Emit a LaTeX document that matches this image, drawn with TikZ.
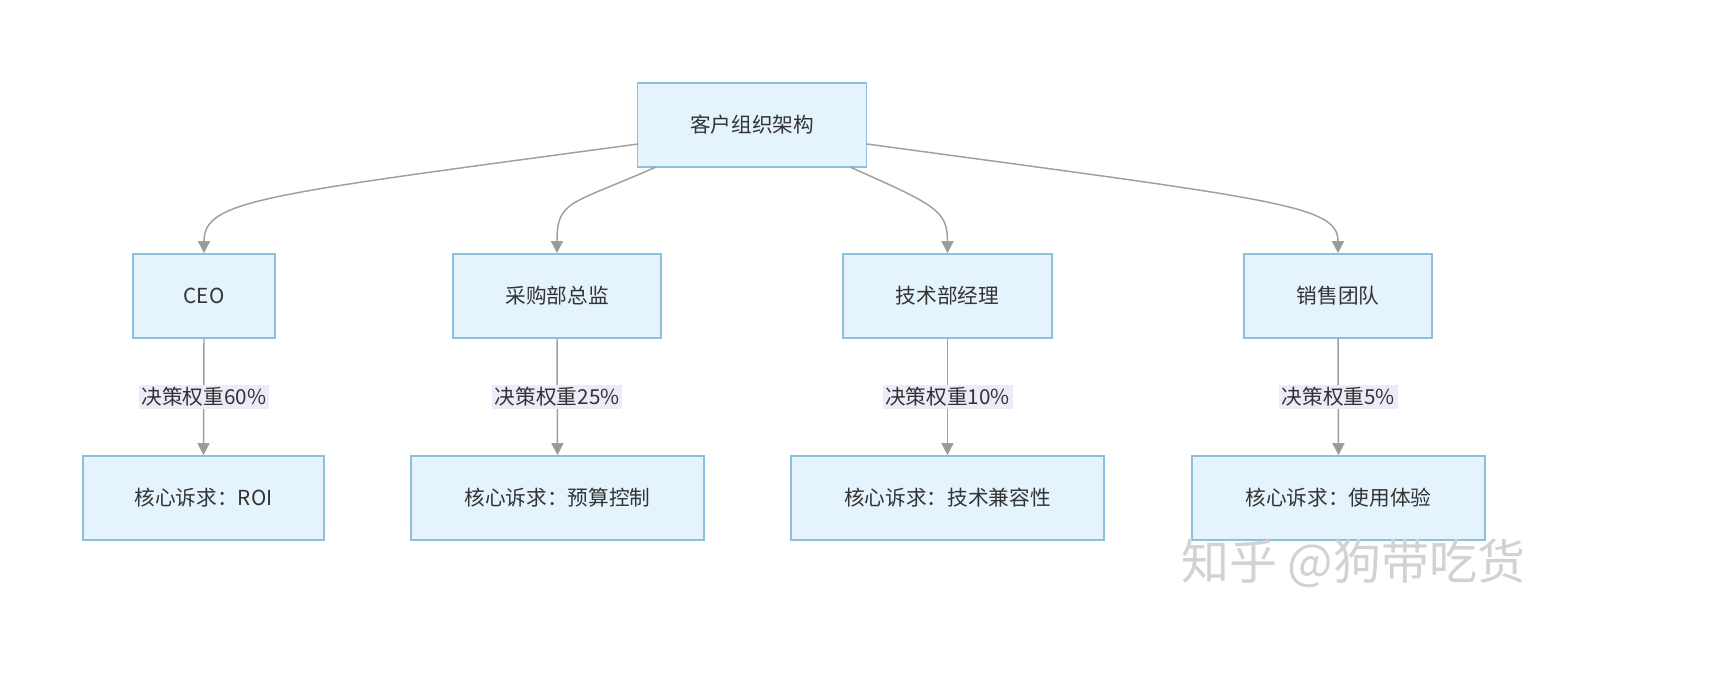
\documentclass[tikz,border=0pt]{standalone}
\usepackage{fontspec}
\usetikzlibrary{arrows.meta}
\setmainfont{Noto Sans CJK SC}
\begin{document}
\begin{tikzpicture}[x=0.75pt,y=-0.75pt,
  box/.style={draw=boxline,fill=boxfill,line width=1.2pt,font=\fontsize{15.5}{18}\selectfont,text=black!80,inner sep=0pt},
  lab/.style={fill=labfill,font=\fontsize{15.5}{18}\selectfont,text=black!80,inner sep=2pt},
  arr/.style={draw=gray!75,line width=1.1pt,-{Triangle[length=9pt,width=9pt,fill=gray!80]}}]
\definecolor{boxfill}{HTML}{E4F3FC}
\definecolor{boxline}{HTML}{8CC0DC}
\definecolor{labfill}{HTML}{EEEAF8}
\useasboundingbox (0,0) rectangle (1709,679);
\fill[white] (0,0) rectangle (1709,679);
\node[box,minimum width=229*0.75pt,minimum height=84*0.75pt] (root) at (752,125) {客户组织架构};
\foreach \n/\x/\w/\t in {a/204/142/CEO, b/557/208/采购部总监, c/947.5/209/技术部经理, d/1338/188/销售团队}
  \node[box,minimum width=\w*0.75pt,minimum height=84*0.75pt] (\n) at (\x,296) {\t};
\foreach \n/\x/\w/\t in {a2/203.5/241/核心诉求：ROI, b2/557.5/293/核心诉求：预算控制, c2/947.5/313/核心诉求：技术兼容性, d2/1338.5/293/核心诉求：使用体验}
  \node[box,minimum width=\w*0.75pt,minimum height=84*0.75pt] (\n) at (\x,498) {\t};
\coordinate (ra) at (638,144);
\coordinate (rb) at (656,167);
\coordinate (rc) at (850,167);
\coordinate (rd) at (867,144);
\draw[arr] (ra) .. controls (260,195) and (204,200) .. (a.north);
\draw[arr] (rb) .. controls (570,205) and (557,200) .. (b.north);
\draw[arr] (rc) .. controls (935,205) and (947.5,210) .. (c.north);
\draw[arr] (rd) .. controls (1280,200) and (1338,205) .. (d.north);
\foreach \u/\v/\p in {a/a2/60, b/b2/25, c/c2/10, d/d2/5}{
  \draw[arr] (\u.south) -- node[lab]{决策权重\p\%} (\v.north);
}
\node[font=\fontsize{36}{40}\selectfont,text=gray!35,anchor=east] (wm) at (1530,563) {知乎 @狗带吃货};
\end{tikzpicture}
\end{document}
